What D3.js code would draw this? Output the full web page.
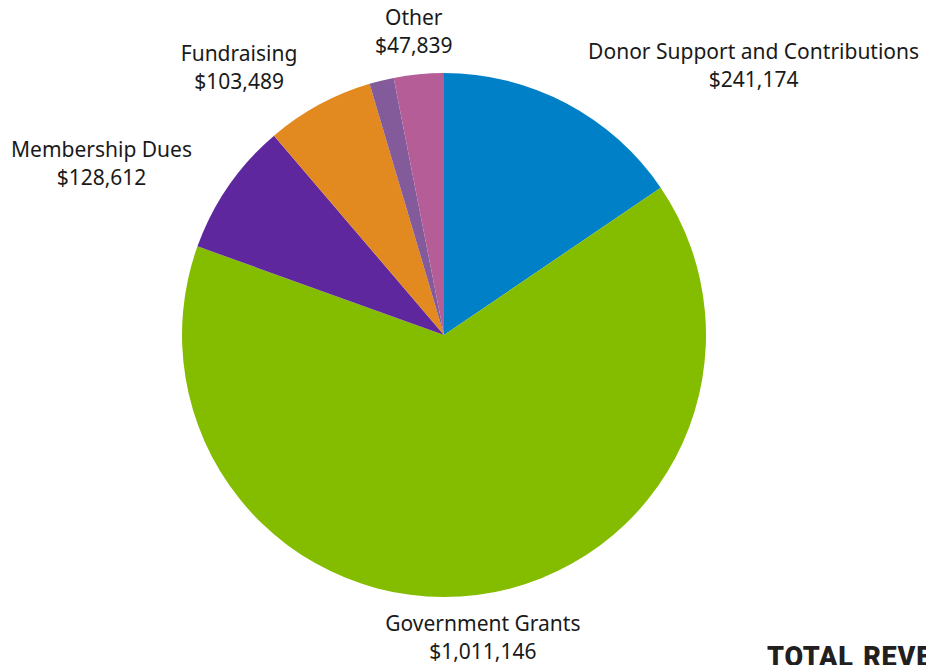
<!DOCTYPE html>
<html>
<head>
    <meta charset="utf-8">
    <title>Revenue</title>
    <script src="https://d3js.org/d3.v7.min.js"></script>
    <style>
        body { margin: 0; background: #fff; overflow: hidden; }
    </style>
</head>
<body>
<div id="chart"></div>
<script type="text/javascript">
    // revenue sources, clockwise from 12 o'clock
    let categories = ["Donor Support and Contributions", "Government Grants", "Membership Dues", "Fundraising", "", "Other"];
    let values = [241174, 1011146, 128612, 103489, 23500, 47839];
    let colors = ["#0080c6", "#84bd00", "#5f279e", "#e2891f", "#835b9b", "#b55d97"];

    let w = 926, h = 665;
    let cx = 444, cy = 335, r = 262;

    // where each label sits relative to the edge of its slice
    let labelNudge = {
        "Donor Support and Contributions": [187, -38],
        "Government Grants": [6, 42],
        "Membership Dues": [-127, -23],
        "Fundraising": [-80, -38],
        "Other": [-5, -43]
    };

    let data = categories.map(function(c, i) {
        return {name: c, value: values[i], color: colors[i]};
    });

    let svg = d3.select("#chart")
        .append("svg")
            .attr("width", w)
            .attr("height", h);

    let g = svg.append("g")
        .attr("transform", "translate(" + cx + "," + cy + ")");

    let pie = d3.pie()
        .sort(null)
        .value(function(d) { return d.value; });

    let arc = d3.arc().innerRadius(0).outerRadius(r);
    let edgeArc = d3.arc().innerRadius(r).outerRadius(r);

    let arcs = pie(data);

    g.selectAll("path")
        .data(arcs)
        .enter()
        .append("path")
        .attr("d", arc)
        .attr("fill", function(d) { return d.data.color; });

    let labels = g.selectAll("text.lbl")
        .data(arcs.filter(function(d) { return d.data.name !== ""; }))
        .enter()
        .append("text")
        .attr("class", "lbl")
        .attr("font-family", "'Noto Sans', sans-serif")
        .attr("font-size", "21px")
        .attr("fill", "#1a1a1a")
        .attr("text-anchor", "middle")
        .attr("transform", function(d) {
            let p = edgeArc.centroid(d);
            let n = labelNudge[d.data.name];
            return "translate(" + (p[0] + n[0]) + "," + (p[1] + n[1]) + ")";
        });

    labels.append("tspan")
        .attr("x", 0)
        .attr("y", -6)
        .text(function(d) { return d.data.name; });

    labels.append("tspan")
        .attr("x", 0)
        .attr("y", 22)
        .text(function(d) { return "$" + d3.format(",")(d.data.value); });

    svg.append("text")
        .attr("x", 767)
        .attr("y", 666)
        .attr("font-family", "Roboto, sans-serif")
        .attr("font-weight", 900)
        .attr("font-size", "27px")
        .attr("letter-spacing", "0.8px")
        .attr("word-spacing", "2px")
        .attr("fill", "#231f20")
        .text("TOTAL REVENUE");
</script>
</body>
</html>
